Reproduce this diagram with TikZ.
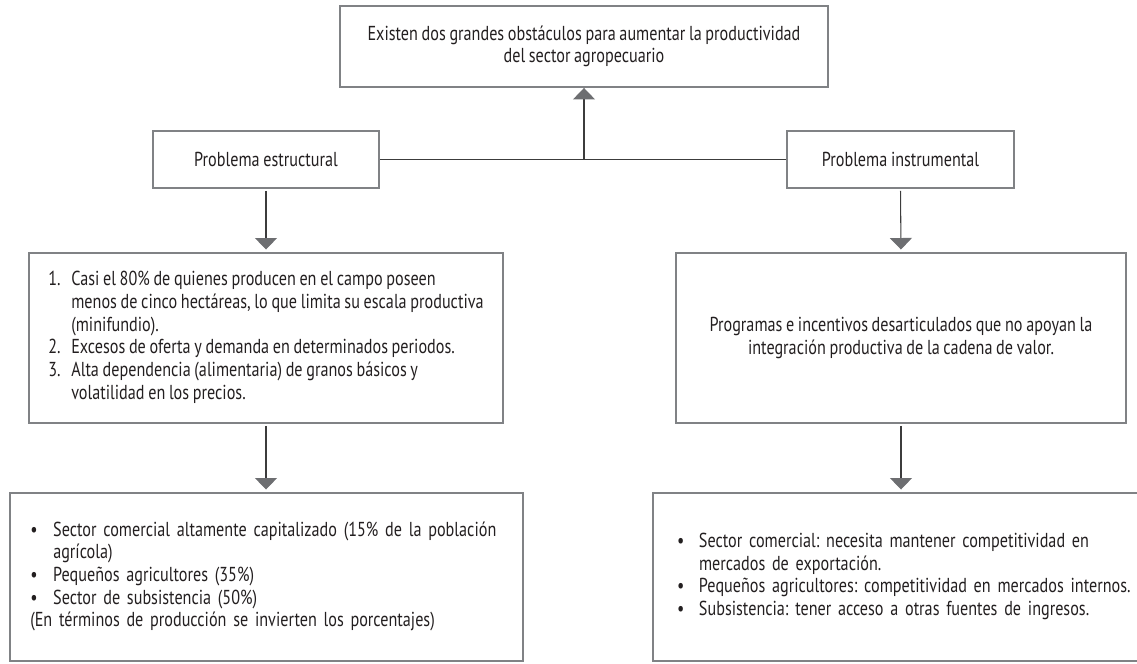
\documentclass[tikz,border=0pt]{standalone}
\usepackage{fontspec}
\setmainfont[FakeStretch=0.8, WordSpace=0.85]{PT Sans}
\usetikzlibrary{arrows.meta}
\frenchspacing

\definecolor{boxgray}{HTML}{808285}
\definecolor{headgray}{HTML}{6D6E71}
\definecolor{linegray}{HTML}{3C3C3C}
\definecolor{textblack}{HTML}{231F20}

\begin{document}
\begin{tikzpicture}[
  box/.style={draw=boxgray, line width=1.4pt, text=textblack, inner sep=0pt,
    font=\fontsize{11.5}{12.9}\selectfont},
  link/.style={linegray, line width=0.6pt},
  arrow/.style={-{Triangle[width=0.44cm, length=0.23cm, color=headgray]}},
  gap/.style={shorten <=0.04cm, shorten >=0.05cm}
]

  % Canvas
  \useasboundingbox (0,0) rectangle (22.74,13.28);
  \clip (0,0) rectangle (22.74,13.28);

  % Top box
  \node[box, minimum width=9.76cm, minimum height=1.61cm, align=center] (goal) at (11.68,12.35)
    {Existen dos grandes obstáculos para aumentar la productividad\\del sector agropecuario};

  % Problem boxes
  \node[box, minimum width=4.53cm, minimum height=1.13cm] (struct) at (5.32,10.09) {Problema estructural};
  \node[box, minimum width=4.55cm, minimum height=1.13cm] (instr) at (18.01,10.09) {Problema instrumental};
  \coordinate (join) at (11.68,10.09);

  % Cause boxes
  \node[box, minimum width=9.49cm, minimum height=3.39cm] (list) at (5.32,6.52) {%
    \begin{tabular}{@{}p{0.46cm}@{}l@{}}
      1. & Casi el 80\% de quienes producen en el campo poseen\\
         & menos de cinco hectáreas, lo que limita su escala productiva\\
         & (minifundio).\\
      2. & Excesos de oferta y demanda en determinados periodos.\\
      3. & Alta dependencia (alimentaria) de granos básicos y\\
         & volatilidad en los precios.
    \end{tabular}};
  \node[box, minimum width=8.99cm, minimum height=3.39cm, align=center] (prog) at (18.02,6.52)
    {Programas e incentivos desarticulados que no apoyan la\\integración productiva de la cadena de valor.};

  % Sector boxes
  \node[box, minimum width=10.27cm, minimum height=3.35cm, text width=9.45cm, inner xsep=0.41cm,
    align=left] (sectors) at (5.33,1.74) {%
    \begin{tabular}{@{}p{0.46cm}@{}l@{}}
      • & Sector comercial altamente capitalizado (15\% de la población\\
        & agrícola)\\
      • & Pequeños agricultores (35\%)\\
      • & Sector de subsistencia (50\%)\\
      \multicolumn{2}{@{}l@{}}{(En términos de producción se invierten los porcentajes)}
    \end{tabular}};
  \node[box, minimum width=9.93cm, minimum height=3.35cm, text width=8.96cm, inner xsep=0.485cm,
    align=left] (needs) at (18.02,1.74) {%
    \begin{tabular}{@{}p{0.44cm}@{}l@{}}
      • & Sector comercial: necesita mantener competitividad en\\
        & mercados de exportación.\\
      • & Pequeños agricultores: competitividad en mercados internos.\\
      • & Subsistencia: tener acceso a otras fuentes de ingresos.
    \end{tabular}};

  % Connectors
  \draw[link] (struct.east) -- (instr.west);
  \draw[link, arrow] (join) -- (goal.south);
  \draw[link, arrow, gap] (struct.south) -- (list.north);
  \draw[link, arrow, gap] (instr.south) -- (prog.north);
  \draw[link, arrow, gap] (list.south) -- (sectors.north -| list.south);
  \draw[link, arrow, gap] (prog.south) -- (needs.north -| prog.south);

\end{tikzpicture}
\end{document}
